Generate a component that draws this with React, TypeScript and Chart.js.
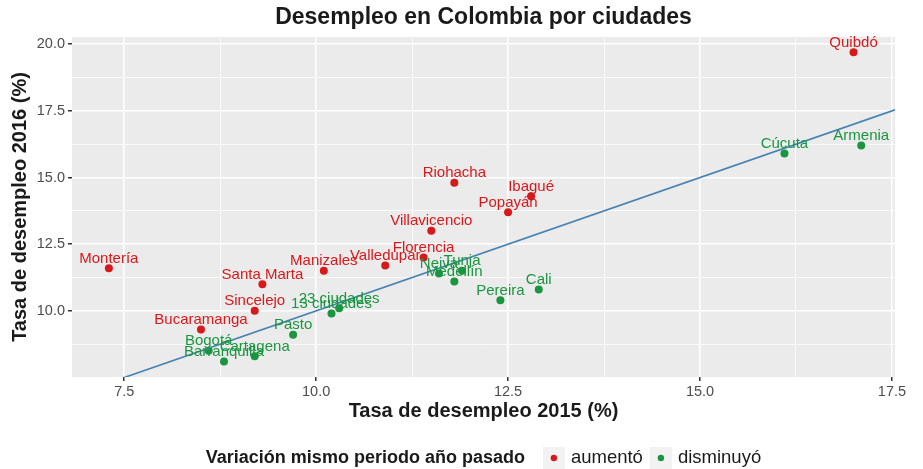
import React, { useEffect, useRef } from 'react';
import { Chart, registerables } from 'chart.js';

Chart.register(...registerables);

// ---- Data ----
const cities = [
  'Quibdó', 'Armenia', 'Cúcuta', 'Riohacha', 'Ibagué', 'Popayán', 'Villavicencio',
  'Florencia', 'Valledupar', 'Manizales', 'Neiva', 'Tunja', 'Medellín', 'Cali',
  'Pereira', '23 ciudades', '13 ciudades', 'Santa Marta', 'Montería', 'Sincelejo',
  'Bucaramanga', 'Pasto', 'Bogotá', 'Cartagena', 'Barranquilla',
];
const rate2015 = [
  17.0, 17.1, 16.1, 11.8, 12.8, 12.5, 11.5,
  11.4, 10.9, 10.1, 11.6, 11.9, 11.8, 12.9,
  12.4, 10.3, 10.2, 9.3, 7.3, 9.2,
  8.5, 9.7, 8.6, 9.2, 8.8,
];
const rate2016 = [
  19.7, 16.2, 15.9, 14.8, 14.3, 13.7, 13.0,
  12.0, 11.7, 11.5, 11.4, 11.5, 11.1, 10.8,
  10.4, 10.1, 9.9, 11.0, 11.6, 10.0,
  9.3, 9.1, 8.5, 8.3, 8.1,
];
const variation = [
  'aumentó', 'disminuyó', 'disminuyó', 'aumentó', 'aumentó', 'aumentó', 'aumentó',
  'aumentó', 'aumentó', 'aumentó', 'disminuyó', 'disminuyó', 'disminuyó', 'disminuyó',
  'disminuyó', 'disminuyó', 'disminuyó', 'aumentó', 'aumentó', 'aumentó',
  'aumentó', 'disminuyó', 'disminuyó', 'disminuyó', 'disminuyó',
];
const groups = ['aumentó', 'disminuyó'];
const groupColors: Record<string, string> = { 'aumentó': '#D7191C', 'disminuyó': '#1A9641' };

const X_MIN = 6.82;
const X_MAX = 17.54;
const Y_MIN = 7.52;
const Y_MAX = 20.27;
const LINE_START = 7.5;

const TITLE = 'Desempleo en Colombia por ciudades';
const X_TITLE = 'Tasa de desempleo 2015 (%)';
const Y_TITLE = 'Tasa de desempleo 2016 (%)';
const LEGEND_TITLE = 'Variación mismo periodo año pasado';

const FONT = '"Liberation Sans", Arial, Helvetica, sans-serif';

const isMajor = (v: number) => Math.abs(v / 2.5 - Math.round(v / 2.5)) < 1e-6;

export default function App() {
  const ref = useRef<HTMLCanvasElement | null>(null);

  useEffect(() => {
    document.body.style.margin = '0';
    const canvas = ref.current;
    if (!canvas) return;

    const datasets: any[] = groups.map((g) => ({
      type: 'scatter',
      label: g,
      data: cities
        .map((c, i) => ({ x: rate2015[i], y: rate2016[i], name: c, g: variation[i] }))
        .filter((d) => d.g === g),
      backgroundColor: groupColors[g],
      borderColor: groupColors[g],
      pointRadius: 4,
      pointBorderWidth: 0,
      order: 2,
    }));
    // identity line y = x
    datasets.push({
      type: 'line',
      label: 'y=x',
      data: [
        { x: LINE_START, y: LINE_START },
        { x: X_MAX, y: X_MAX },
      ],
      borderColor: '#4682B4',
      borderWidth: 1.6,
      pointRadius: 0,
      fill: false,
      order: 1,
    });

    const bgPlugin = {
      id: 'panelBg',
      beforeDraw(chart: any) {
        const { ctx, chartArea: a } = chart;
        ctx.save();
        ctx.fillStyle = '#FFFFFF';
        ctx.fillRect(0, 0, chart.width, chart.height);
        ctx.fillStyle = '#EBEBEB';
        ctx.fillRect(a.left, a.top, a.right - a.left, a.bottom - a.top);
        ctx.restore();
      },
    };

    const labelPlugin = {
      id: 'pointLabels',
      afterDatasetsDraw(chart: any) {
        const { ctx } = chart;
        const xs = chart.scales.x;
        const ys = chart.scales.y;
        ctx.save();
        ctx.font = `15px ${FONT}`;
        ctx.textAlign = 'center';
        ctx.textBaseline = 'alphabetic';
        cities.forEach((c, i) => {
          const px = xs.getPixelForValue(rate2015[i]);
          const py = ys.getPixelForValue(rate2016[i]);
          ctx.fillStyle = groupColors[variation[i]];
          ctx.fillText(c, px, py - 5.5);
        });
        ctx.restore();
      },
    };

    const decorPlugin = {
      id: 'decor',
      afterDraw(chart: any) {
        const { ctx, chartArea: a } = chart;
        const cx = (a.left + a.right) / 2;
        const cy = (a.top + a.bottom) / 2;
        ctx.save();
        ctx.fillStyle = '#1A1A1A';
        // title
        ctx.font = `bold 23px ${FONT}`;
        ctx.textAlign = 'center';
        ctx.textBaseline = 'middle';
        ctx.fillText(TITLE, cx, 18);
        // x title
        ctx.font = `bold 20px ${FONT}`;
        ctx.fillText(X_TITLE, cx, 411);
        // y title
        ctx.save();
        ctx.translate(20, cy);
        ctx.rotate(-Math.PI / 2);
        ctx.fillText(Y_TITLE, 0, 0);
        ctx.restore();
        // legend
        const ly = 458;
        ctx.font = `bold 18px ${FONT}`;
        const tW = ctx.measureText(LEGEND_TITLE).width;
        ctx.font = `18.5px ${FONT}`;
        const w1 = ctx.measureText(groups[0]).width;
        const w2 = ctx.measureText(groups[1]).width;
        const box = 22;
        const gapTitle = 18;
        const gapText = 6;
        const gapItem = 7;
        const total = tW + gapTitle + box + gapText + w1 + gapItem + box + gapText + w2;
        let x = cx - total / 2;
        ctx.textAlign = 'left';
        ctx.font = `bold 18px ${FONT}`;
        ctx.fillStyle = '#1A1A1A';
        ctx.fillText(LEGEND_TITLE, x, ly);
        x += tW + gapTitle;
        groups.forEach((g, gi) => {
          ctx.fillStyle = '#F2F2F2';
          ctx.fillRect(x, ly - box / 2, box, box);
          ctx.fillStyle = groupColors[g];
          ctx.beginPath();
          ctx.arc(x + box / 2, ly, 3.2, 0, Math.PI * 2);
          ctx.fill();
          x += box + gapText;
          ctx.font = `18.5px ${FONT}`;
          ctx.fillStyle = '#1A1A1A';
          ctx.fillText(g, x, ly);
          x += (gi === 0 ? w1 : w2) + gapItem;
        });
        ctx.restore();
      },
    };

    const gridOpts = {
      color: '#FFFFFF',
      lineWidth: (c: any) => (c.tick && isMajor(c.tick.value) ? 1.5 : 0.75),
      tickColor: (c: any) => (c.tick && isMajor(c.tick.value) ? '#333333' : 'rgba(0,0,0,0)'),
      tickLength: 4,
      drawTicks: true,
      drawOnChartArea: true,
    };
    const tickOpts = {
      stepSize: 1.25,
      includeBounds: false,
      autoSkip: false,
      maxRotation: 0,
      color: '#4D4D4D',
      font: { family: FONT, size: 14.5 },
      callback: (v: any) => (isMajor(Number(v)) ? Number(v).toFixed(1) : ''),
    };

    const chart = new Chart(canvas, {
      type: 'scatter',
      data: { datasets },
      options: {
        responsive: false,
        animation: false,
        devicePixelRatio: 1,
        layout: { padding: { top: 37, right: 28, left: 0, bottom: 0 } },
        plugins: { legend: { display: false }, tooltip: { enabled: false }, title: { display: false } },
        scales: {
          x: {
            type: 'linear',
            min: X_MIN,
            max: X_MAX,
            grid: gridOpts as any,
            border: { display: false },
            ticks: { ...tickOpts, padding: 2 } as any,
            afterFit: (s: any) => { s.height = 92; },
          },
          y: {
            type: 'linear',
            min: Y_MIN,
            max: Y_MAX,
            grid: gridOpts as any,
            border: { display: false },
            ticks: { ...tickOpts, padding: 3 } as any,
            afterFit: (s: any) => { s.width = 72; },
          },
        },
      },
      plugins: [bgPlugin, labelPlugin, decorPlugin],
    });

    return () => chart.destroy();
  }, []);

  return <canvas ref={ref} width={923} height={469} style={{ display: 'block' }} />;
}
